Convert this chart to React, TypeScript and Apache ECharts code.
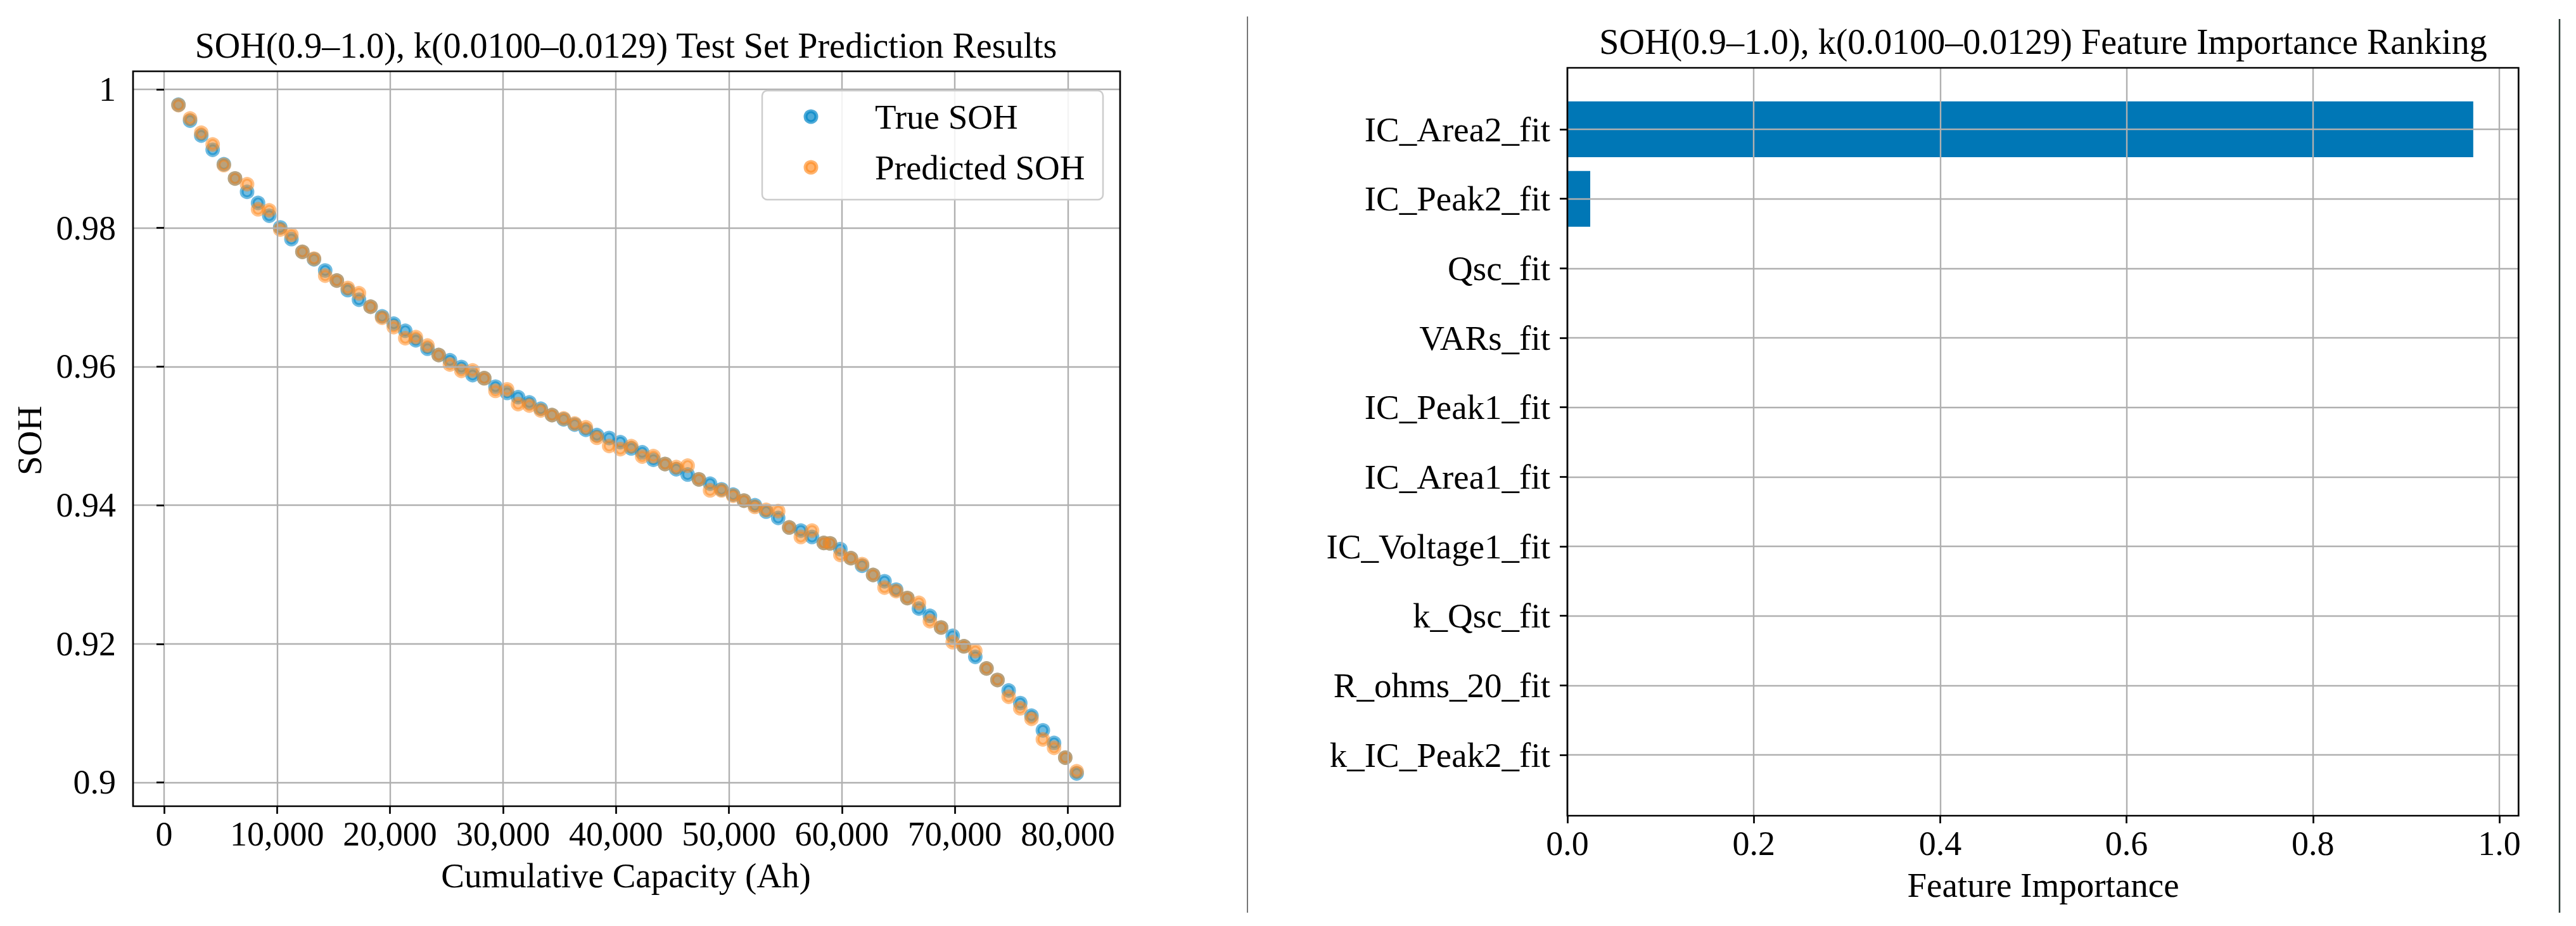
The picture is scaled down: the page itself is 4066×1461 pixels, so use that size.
import React, { useEffect, useRef } from 'react';
import * as echarts from 'echarts';

const capacity = [
  1271, 2299, 3290, 4299, 5290, 6280, 7346, 8318, 9308, 10280,
  11271, 12243, 13271, 14262, 15290, 16262, 17252, 18280, 19300, 20330,
  21350, 22287, 23318, 24311, 25305, 26317, 27310, 28341, 29335, 30366,
  31340, 32334, 33346, 34339, 35370, 36345, 37338, 38313, 39400, 40390,
  41360, 42322, 43315, 44345, 45337, 46348, 47341, 48333, 49345, 50375,
  51330, 52303, 53296, 54363, 55337, 56367, 57360, 58400, 58950, 59870,
  60800, 61790, 62766, 63776, 64804, 65794, 66822, 67794, 68785, 69813,
  70804, 71813, 72804, 73776, 74766, 75794, 76785, 77794, 78785, 79776,
  80785,
];

const trueSOH = [
  0.99779, 0.99549, 0.99334, 0.99129, 0.9892, 0.98715, 0.98522, 0.98362, 0.98178, 0.98009,
  0.9784, 0.97656, 0.97549, 0.97387, 0.97242, 0.97104, 0.96966, 0.96865, 0.96725, 0.9662,
  0.96517, 0.9638, 0.96258, 0.96167, 0.96091, 0.95994, 0.95878, 0.95833, 0.95711, 0.9562,
  0.95559, 0.95483, 0.95392, 0.95301, 0.9524, 0.95164, 0.95088, 0.95012, 0.9497, 0.9491,
  0.9482, 0.94763, 0.94656, 0.94595, 0.94519, 0.94443, 0.94373, 0.94311, 0.94229, 0.94153,
  0.94067, 0.94, 0.93908, 0.93817, 0.93679, 0.93634, 0.93542, 0.93456, 0.9345, 0.93366,
  0.93236, 0.93127, 0.92994, 0.92903, 0.92782, 0.92661, 0.92509, 0.92403, 0.92236, 0.92115,
  0.91964, 0.91812, 0.91645, 0.91479, 0.91327, 0.91145, 0.90964, 0.90752, 0.9057, 0.90358,
  0.9013,
];

const predictedSOH = [
  0.99773, 0.9958, 0.99374, 0.99206, 0.98908, 0.98715, 0.98632, 0.9827, 0.98255, 0.97979,
  0.97902, 0.97656, 0.97558, 0.97313, 0.97242, 0.97135, 0.97058, 0.96865, 0.96705, 0.9657,
  0.9641, 0.96426, 0.96304, 0.96167, 0.9603, 0.95939, 0.95945, 0.95833, 0.9565, 0.95672,
  0.95459, 0.95438, 0.95368, 0.95301, 0.95252, 0.95179, 0.95125, 0.94973, 0.94855, 0.9481,
  0.94853, 0.94702, 0.94708, 0.94595, 0.9455, 0.94571, 0.94373, 0.94214, 0.94214, 0.94137,
  0.94067, 0.93976, 0.93933, 0.93915, 0.93679, 0.93542, 0.93634, 0.93456, 0.9345, 0.93282,
  0.93236, 0.9315, 0.92994, 0.92812, 0.92761, 0.92661, 0.92591, 0.92327, 0.92236, 0.92024,
  0.91964, 0.91897, 0.91645, 0.91479, 0.91236, 0.9107, 0.90918, 0.90621, 0.905, 0.90358,
  0.90161,
];

const capacityTicks = [0, 10000, 20000, 30000, 40000, 50000, 60000, 70000, 80000];
const sohTicks = [0.9, 0.92, 0.94, 0.96, 0.98, 1.0];

const features = [
  'IC_Area2_fit', 'IC_Peak2_fit', 'Qsc_fit', 'VARs_fit', 'IC_Peak1_fit',
  'IC_Area1_fit', 'IC_Voltage1_fit', 'k_Qsc_fit', 'R_ohms_20_fit', 'k_IC_Peak2_fit',
];
const importance = [0.972, 0.0245, 0, 0, 0, 0, 0, 0, 0, 0];
const importanceTicks = [0, 0.2, 0.4, 0.6, 0.8, 1.0];

const leftTitle = 'SOH(0.9–1.0), k(0.0100–0.0129) Test Set Prediction Results';
const rightTitle = 'SOH(0.9–1.0), k(0.0100–0.0129) Feature Importance Ranking';
const leftXName = 'Cumulative Capacity (Ah)';
const leftYName = 'SOH';
const rightXName = 'Feature Importance';
const seriesNames = ['True SOH', 'Predicted SOH'];

const FONT = "'Liberation Serif', 'Times New Roman', Times, serif";
const BLUE = 'rgba(0,134,200,0.7)';
const ORANGE = 'rgba(255,138,30,0.65)';
const BAR = '#0077B6';
const GRIDC = '#b0b0b0';
const SPINE = 2.7;
const MARK_SIZE = 17;
const MARK_EDGE = 6;

function buildOption(): any {
  const tickStyle = { color: '#000', width: SPINE };
  const splitStyle = { color: GRIDC, width: 2.4 };
  const numLabel = { fontSize: 54, fontFamily: FONT, color: '#000' };
  const legendColors = [BLUE, ORANGE];
  const legendRows = [184, 264];

  const legendElements: any[] = [];
  seriesNames.forEach((name, i) => {
    legendElements.push({
      type: 'circle', z: 12,
      shape: { cx: 1280, cy: legendRows[i], r: MARK_SIZE / 2 },
      style: { fill: legendColors[i], stroke: legendColors[i], lineWidth: MARK_EDGE },
    });
    legendElements.push({
      type: 'text', z: 12, x: 1381, y: legendRows[i],
      style: { text: name, fontSize: 55, fontFamily: FONT, fill: '#000', align: 'left', verticalAlign: 'middle' },
    });
  });

  return {
    animation: false,
    backgroundColor: '#ffffff',
    grid: [
      { left: 210, top: 112.5, width: 1558, height: 1159.5, show: true, borderColor: '#000', borderWidth: SPINE, backgroundColor: 'transparent', z: 4 },
      { left: 2474, top: 107, width: 1501.3, height: 1180, show: true, borderColor: '#000', borderWidth: SPINE, backgroundColor: 'transparent', z: 4 },
      { left: 2474, top: 204, width: 1501.3, height: 987, show: false },
    ],
    xAxis: [
      {
        gridIndex: 0, type: 'value', min: -2748, max: 84632, splitNumber: 9, z: 3,
        axisLine: { show: false },
        axisTick: { show: true, inside: false, length: 12, customValues: capacityTicks, lineStyle: tickStyle },
        axisLabel: {
          ...numLabel, margin: 17, customValues: capacityTicks,
          formatter: (v: number) => Number(v).toLocaleString('en-US'),
        },
        splitLine: { show: true, lineStyle: splitStyle },
      },
      {
        gridIndex: 1, type: 'value', min: 0, max: 1.0206, z: 3,
        axisLine: { show: false },
        axisTick: { show: true, inside: false, length: 12, customValues: importanceTicks, lineStyle: tickStyle },
        axisLabel: {
          ...numLabel, margin: 17, customValues: importanceTicks,
          formatter: (v: number) => Number(v).toFixed(1),
        },
        splitLine: { show: true, lineStyle: splitStyle },
      },
      { gridIndex: 2, type: 'value', min: 0, max: 1.0206, show: false },
    ],
    yAxis: [
      {
        gridIndex: 0, type: 'value', min: 0.89657, max: 1.00261, z: 3,
        axisLine: { show: false },
        axisTick: { show: true, inside: false, length: 12, customValues: sohTicks, lineStyle: tickStyle },
        axisLabel: {
          ...numLabel, margin: 27, customValues: sohTicks,
          formatter: (v: number) => String(parseFloat(Number(v).toFixed(2))),
        },
        splitLine: { show: true, lineStyle: splitStyle },
      },
      { gridIndex: 1, type: 'value', min: 0, max: 1, show: false },
      {
        gridIndex: 2, type: 'category', data: features, inverse: true, boundaryGap: false, z: 3,
        axisLine: { show: false },
        axisTick: { show: true, inside: false, length: 12, interval: 0, lineStyle: tickStyle },
        axisLabel: { fontSize: 55, fontFamily: FONT, color: '#000', margin: 27, interval: 0 },
        splitLine: { show: true, interval: 0, lineStyle: splitStyle },
      },
    ],
    series: [
      {
        type: 'scatter', name: seriesNames[0], xAxisIndex: 0, yAxisIndex: 0,
        data: capacity.map((c, i) => [c, trueSOH[i]]),
        symbol: 'circle', symbolSize: MARK_SIZE, clip: false, z: 2,
        itemStyle: { color: BLUE, borderColor: BLUE, borderWidth: MARK_EDGE },
      },
      {
        type: 'scatter', name: seriesNames[1], xAxisIndex: 0, yAxisIndex: 0,
        data: capacity.map((c, i) => [c, predictedSOH[i]]),
        symbol: 'circle', symbolSize: MARK_SIZE, clip: false, z: 2,
        itemStyle: { color: ORANGE, borderColor: ORANGE, borderWidth: MARK_EDGE },
      },
      {
        type: 'bar', name: rightXName, xAxisIndex: 2, yAxisIndex: 2,
        data: importance, barWidth: 88, clip: false, z: 2,
        itemStyle: { color: BAR },
      },
    ],
    graphic: {
      elements: [
        {
          type: 'rect', z: 10,
          shape: { x: 1203, y: 143, width: 538, height: 172, r: 8 },
          style: { fill: 'rgba(255,255,255,0.85)', stroke: '#cccccc', lineWidth: 2.5 },
        },
        ...legendElements,
        {
          type: 'text', z: 10, x: 988, y: 72,
          style: { text: leftTitle, fontSize: 56, fontFamily: FONT, fill: '#000', align: 'center', verticalAlign: 'middle' },
        },
        {
          type: 'text', z: 10, x: 3225, y: 66,
          style: { text: rightTitle, fontSize: 56, fontFamily: FONT, fill: '#000', align: 'center', verticalAlign: 'middle' },
        },
        {
          type: 'text', z: 10, x: 988, y: 1381,
          style: { text: leftXName, fontSize: 55, fontFamily: FONT, fill: '#000', align: 'center', verticalAlign: 'middle' },
        },
        {
          type: 'text', z: 10, x: 46, y: 695, rotation: Math.PI / 2,
          style: { text: leftYName, fontSize: 55, fontFamily: FONT, fill: '#000', align: 'center', verticalAlign: 'middle' },
        },
        {
          type: 'text', z: 10, x: 3225, y: 1396,
          style: { text: rightXName, fontSize: 55, fontFamily: FONT, fill: '#000', align: 'center', verticalAlign: 'middle' },
        },
        {
          type: 'line', z: 10,
          shape: { x1: 1969, y1: 26, x2: 1969, y2: 1440 },
          style: { stroke: '#777777', lineWidth: 2 },
        },
        {
          type: 'line', z: 10,
          shape: { x1: 4040, y1: 30, x2: 4040, y2: 1440 },
          style: { stroke: '#2b3a35', lineWidth: 2.5 },
        },
      ],
    },
  };
}

export default function App() {
  const ref = useRef<HTMLDivElement>(null);
  useEffect(() => {
    document.body.style.margin = '0';
    if (!ref.current) return;
    const chart = echarts.init(ref.current, null, { renderer: 'svg' });
    chart.setOption(buildOption());
    return () => chart.dispose();
  }, []);
  return <div ref={ref} style={{ width: 4066, height: 1461, background: '#ffffff' }} />;
}
